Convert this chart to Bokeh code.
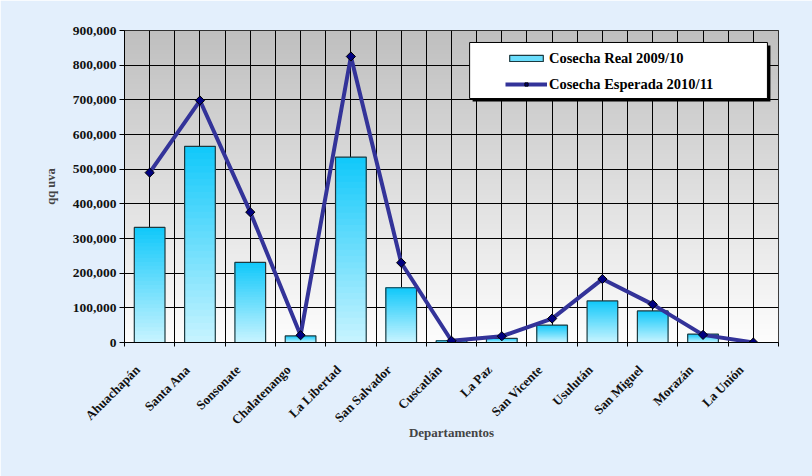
import numpy as np
from bokeh.plotting import figure
from bokeh.models import (Range1d, FixedTicker, NumeralTickFormatter, CustomJSTickFormatter,
                          Legend, LegendItem)
from bokeh.embed import file_html
from bokeh.resources import INLINE

# ---- data ----
categories = ["Ahuachapán", "Santa Ana", "Sonsonate", "Chalatenango", "La Libertad",
              "San Salvador", "Cuscatlán", "La Paz", "San Vicente", "Usulután",
              "San Miguel", "Morazán", "La Unión"]
cosecha_real = [332000, 566000, 231000, 19000, 535000, 158000, 5000, 12000, 50000,
                120000, 91000, 24000, 0]
cosecha_esperada = [490000, 698000, 376000, 21000, 825000, 230000, 5000, 18000, 69000,
                    183000, 110000, 22000, 0]
y_ticks = [0, 100000, 200000, 300000, 400000, 500000, 600000, 700000, 800000, 900000]
series_names = ["Cosecha Real 2009/10", "Cosecha Esperada 2010/11"]

FONT = "Liberation Serif"
n = len(categories)
centers = np.arange(n) + 0.5
bounds = np.arange(n + 1).astype(float)
ymax = y_ticks[-1]

p = figure(frame_width=654, frame_height=312,
           x_range=Range1d(0, n), y_range=Range1d(0, ymax),
           output_backend="svg", toolbar_location=None,
           min_border_left=124, min_border_right=34, min_border_top=30, min_border_bottom=134)
p.border_fill_color = "#e3effc"
p.background_fill_color = "white"
p.outline_line_color = "black"
p.outline_line_width = 1

# frame gradient background (gray top -> white bottom)
H = 200
img = np.zeros((H, 1), dtype=np.uint32)
view = img.view(dtype=np.uint8).reshape((H, 1, 4))
for i in range(H):
    g = int(round(253 - (253 - 191) * i / (H - 1)))
    view[i, 0, :] = [g, g, g, 255]
bg = p.image_rgba(image=[img], x=0, y=0, dw=n, dh=ymax)
bg.level = "image"

# grids
p.ygrid.ticker = FixedTicker(ticks=y_ticks)
p.ygrid.grid_line_color = "black"
p.ygrid.grid_line_width = 1
p.xgrid.ticker = FixedTicker(ticks=list(centers), minor_ticks=list(bounds))
p.xgrid.grid_line_color = "black"
p.xgrid.minor_grid_line_color = "black"
p.xgrid.grid_line_width = 1

# gradient bars: stacked overlapping slices (bottom light -> top cyan)
N = 30
top_col = np.array([16, 200, 250])
bot_col = np.array([200, 244, 255])
real = np.array(cosecha_real, dtype=float)
bar_w = 0.61
slice_renderers = []
for k in range(N):
    t = (k + 0.5) / N
    c = bot_col + (top_col - bot_col) * t
    col = "#%02x%02x%02x" % tuple(int(round(v)) for v in c)
    r = p.vbar(x=centers, width=bar_w, bottom=real * k / N, top=real,
               fill_color=col, line_color=None)
    slice_renderers.append(r)
outline = p.vbar(x=centers, width=bar_w, bottom=0, top=real, fill_alpha=0,
                 line_color="#1c3a40", line_width=1.2)

# line
line_r = p.line(centers, cosecha_esperada, line_color="#333399", line_width=4)
mark_r = p.scatter(centers, cosecha_esperada, marker="square", angle=np.pi / 4, size=6.5,
                   fill_color="#000080", line_color="black", line_width=1)

# legend box with shadow (decoration)
bx0, bx1 = 6.86, 12.78
by0, by1 = 703800, 865400
dx, dy = 3 / 654 * n, 3 / 312 * ymax
p.quad(left=bx0 + dx, right=bx1 + dx, bottom=by0 - dy, top=by1 - dy, fill_color="black", line_color=None)
p.quad(left=bx0, right=bx1, bottom=by0, top=by1, fill_color="white", line_color="black", line_width=1)

legend = Legend(items=[
    LegendItem(label=series_names[0], renderers=[slice_renderers[N // 2], outline]),
    LegendItem(label=series_names[1], renderers=[line_r, mark_r]),
], location=(381, 248))
legend.background_fill_alpha = 0
legend.border_line_color = None
legend.padding = 0
legend.margin = 0
legend.spacing = 6
legend.glyph_width = 42
legend.glyph_height = 8
legend.label_height = 20
legend.label_standoff = 2
legend.label_text_font = FONT
legend.label_text_font_style = "bold"
legend.label_text_font_size = "14.5px"
legend.label_text_color = "black"
p.add_layout(legend)

# axes
p.yaxis.ticker = FixedTicker(ticks=y_ticks)
p.yaxis.formatter = NumeralTickFormatter(format="0,0")
p.yaxis.major_tick_out = 5
p.yaxis.major_tick_in = 0
p.yaxis.minor_tick_line_color = None
p.yaxis.axis_line_color = "black"
p.yaxis.major_tick_line_color = "black"
p.yaxis.major_label_standoff = 3
p.yaxis.major_label_text_font = FONT
p.yaxis.major_label_text_font_style = "bold"
p.yaxis.major_label_text_font_size = "13.5px"
p.yaxis.major_label_text_color = "#111111"
p.yaxis.axis_label = "qq uva"
p.yaxis.axis_label_text_font = FONT
p.yaxis.axis_label_text_font_style = "bold"
p.yaxis.axis_label_text_font_size = "12.5px"
p.yaxis.axis_label_standoff = 12

# tick labels sit slightly left of the category centres, as in the original
label_shift = 0.24
p.xaxis.ticker = FixedTicker(ticks=list(centers - label_shift), minor_ticks=list(bounds))
p.xaxis.formatter = CustomJSTickFormatter(args=dict(names=categories, s=label_shift),
                                          code="return names[Math.round(tick + s - 0.5)];")
p.xaxis.major_tick_line_color = None
p.xaxis.minor_tick_line_color = "black"
p.xaxis.minor_tick_out = 4
p.xaxis.minor_tick_in = 0
p.xaxis.axis_line_color = "black"
p.xaxis.major_label_orientation = np.pi / 4
p.xaxis.major_label_standoff = 19
p.xaxis.major_label_text_font = FONT
p.xaxis.major_label_text_font_style = "bold"
p.xaxis.major_label_text_font_size = "13px"
p.xaxis.major_label_text_color = "#111111"
p.xaxis.axis_label = "Departamentos"
p.xaxis.axis_label_text_font = FONT
p.xaxis.axis_label_text_font_style = "bold"
p.xaxis.axis_label_text_font_size = "13px"
p.xaxis.axis_label_standoff = -11

open("out.html", "w").write(file_html(p, INLINE))
